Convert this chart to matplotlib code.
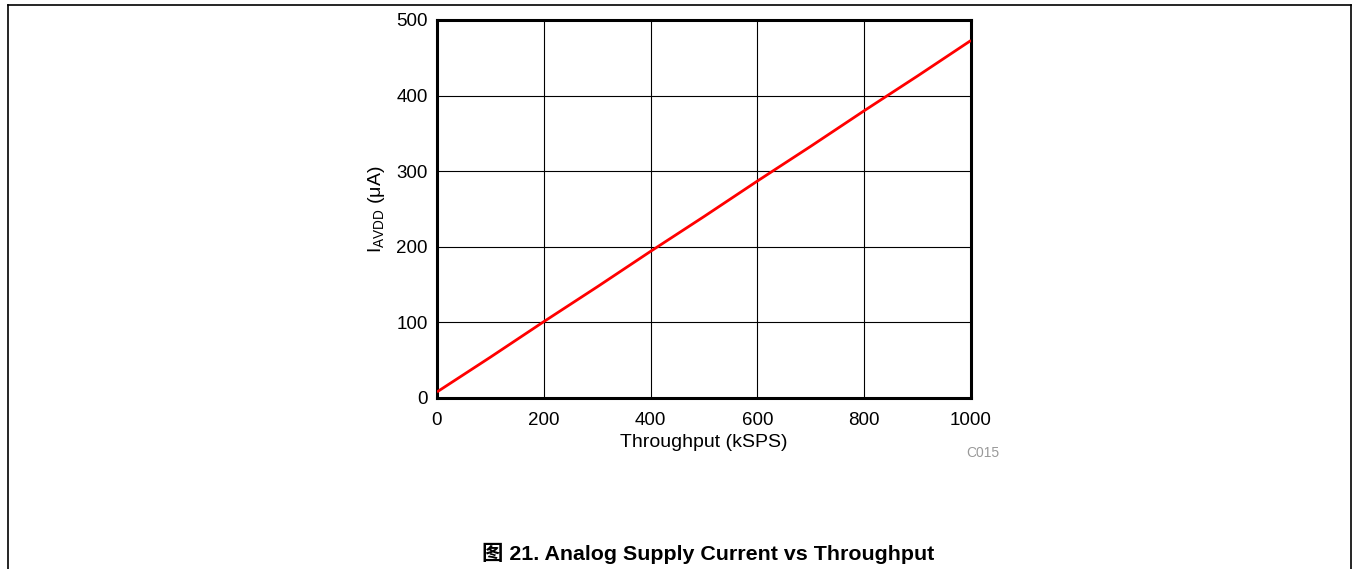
import matplotlib.pyplot as plt
from matplotlib.lines import Line2D

plt.rcParams['font.family'] = ['Liberation Sans', 'Noto Sans CJK SC', 'DejaVu Sans']

# data
throughput = [0, 100, 200, 300, 400, 500, 600, 700, 800, 900, 1000]
i_avdd = [8, 54, 101, 147, 194, 240, 287, 333, 380, 426, 473]
x_ticks = [0, 200, 400, 600, 800, 1000]
y_ticks = [0, 100, 200, 300, 400, 500]

fig = plt.figure(figsize=(13.53, 5.69), dpi=100)
ax = fig.add_axes([437 / 1353, 171 / 569, 534 / 1353, 378 / 569])

ax.plot(throughput, i_avdd, color='#ff0000', lw=2.0, solid_capstyle='butt', zorder=3)

ax.set_xlim(0, 1000)
ax.set_ylim(0, 500)
ax.set_xticks(x_ticks)
ax.set_yticks(y_ticks)
ax.grid(True, color='black', lw=0.8)
ax.tick_params(length=0, labelsize=13.5)
ax.tick_params(axis='x', pad=10)
ax.tick_params(axis='y', pad=6.5)
for s in ax.spines.values():
    s.set_linewidth(2.2)

ax.set_xlabel('Throughput (kSPS)', fontsize=14, labelpad=3.5)
ax.set_ylabel(r'I$_{\mathregular{AVDD}}$ ($\mathregular{\mu}$A)', fontsize=14, labelpad=7)

fig.text(983 / 1353, 1 - 453 / 569, 'C015', fontsize=10, color='#999999', ha='center', va='center')
fig.text(708 / 1353, 1 - 553 / 569, '图 21. Analog Supply Current vs Throughput',
         fontsize=15.4, fontweight='bold', ha='center', va='center')

# page frame
fig.add_artist(Line2D([8 / 1353, 1351 / 1353], [1 - 5 / 569, 1 - 5 / 569], color='black', lw=1.2))
fig.add_artist(Line2D([8 / 1353, 8 / 1353], [0, 1 - 5 / 569], color='black', lw=1.2))
fig.add_artist(Line2D([1351 / 1353, 1351 / 1353], [0, 1 - 5 / 569], color='black', lw=1.2))

plt.savefig('out.png', dpi=100)
